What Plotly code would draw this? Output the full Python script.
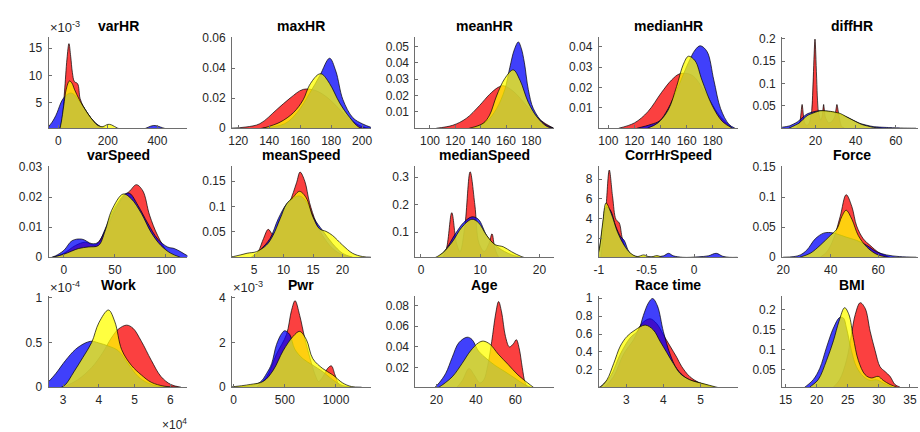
import plotly.graph_objects as go

# ---------------------------------------------------------------------------
# Kernel density curves (x, density) for the three groups in every panel
# ---------------------------------------------------------------------------
varHR_red = [(5, 0), (15, 0.002), (25, 0.007), (35, 0.013), (43, 0.0158), (50, 0.0135), (57, 0.0105),
             (65, 0.0089), (78, 0.0085), (88, 0.0058), (100, 0.0045), (120, 0.003), (140, 0.0018),
             (160, 0.0009), (190, 0.0002), (220, 0)]
varHR_blue = [(-45, 0), (-40, 0.0006), (-25, 0.0015), (-10, 0.0027), (0, 0.0038), (10, 0.005), (20, 0.0058),
              (35, 0.0065), (50, 0.0068), (65, 0.0065), (80, 0.0056), (100, 0.0044), (120, 0.003),
              (140, 0.0018), (160, 0.001), (180, 0.0005), (220, 0.0002), (300, 0.0001), (340, 0.0002),
              (385, 0.0009), (420, 0.0005), (450, 0.0001), (480, 0)]
varHR_yellow = [(5, 0), (12, 0.0015), (22, 0.0045), (32, 0.0075), (45, 0.009), (55, 0.0086), (65, 0.0075),
                (75, 0.0065), (85, 0.0056), (100, 0.0044), (120, 0.003), (140, 0.0018), (160, 0.0009),
                (180, 0.0007), (200, 0.0011), (215, 0.001), (240, 0.0004), (270, 0.0001), (300, 0)]

maxHR_red = [(115, 0), (125, 0.0008), (134, 0.003), (145, 0.0125), (153.5, 0.02), (162, 0.0258), (170, 0.025),
             (178, 0.02), (185, 0.013), (192, 0.006), (200, 0.001), (206, 0)]
maxHR_blue = [(135, 0), (150, 0.003), (158, 0.0103), (166, 0.023), (172.7, 0.035), (179, 0.0465), (183, 0.038),
              (187.6, 0.019), (194, 0.007), (200.4, 0.0028), (206, 0.0005)]
maxHR_yellow = [(136, 0), (147, 0.004), (155.6, 0.0103), (162, 0.019), (166, 0.0286), (171.6, 0.0357),
                (174, 0.036), (179, 0.0297), (185.5, 0.0168), (192, 0.0071), (198, 0.0006), (202, 0)]

meanHR_red = [(105, 0), (118, 0.0018), (128.6, 0.006), (139, 0.0138), (147, 0.0207), (153.8, 0.025),
              (158, 0.026), (165.7, 0.0226), (176.3, 0.0138), (187, 0.005), (197.5, 0)]
meanHR_blue = [(134, 0), (144.5, 0.004), (152.5, 0.0119), (159, 0.0236), (163, 0.0372), (166.5, 0.048),
               (169.7, 0.0528), (172, 0.049), (174.5, 0.04), (177.6, 0.0236), (181.6, 0.0119),
               (189.6, 0.0031), (197.5, 0)]
meanHR_yellow = [(131, 0), (141.9, 0.003), (147, 0.008), (152.5, 0.0197), (159, 0.0304), (165.7, 0.0357),
                 (171, 0.0294), (177.6, 0.0158), (184.3, 0.007), (192, 0.0012), (197, 0)]

medianHR_red = [(108, 0), (120, 0.0026), (130.3, 0.0081), (140.6, 0.0174), (148.4, 0.0236), (154.9, 0.0267),
                (164, 0.026), (174.3, 0.0174), (184.7, 0.0065), (195, 0)]
medianHR_blue = [(122, 0), (132.9, 0.0019), (139.4, 0.0037), (145.8, 0.0096), (153.6, 0.0205),
                 (161.4, 0.0322), (166.5, 0.0384), (170.4, 0.0404), (175.6, 0.0376), (180.8, 0.0236),
                 (186, 0.0096), (192.4, 0.0019), (197, 0)]
medianHR_yellow = [(130, 0), (138, 0.0026), (145.8, 0.0089), (152.3, 0.0205), (157.5, 0.0314),
                   (161.4, 0.0353), (166.5, 0.033), (171.7, 0.0236), (179.5, 0.0112), (187.2, 0.0034),
                   (195, 0)]

diffHR_red = [(10.5, 0), (12.2, 0.012), (13.4, 0.053), (14.6, 0.012), (15.8, 0.006), (17, 0.012),
              (18.2, 0.04), (19.8, 0.199), (21.4, 0.04), (22.6, 0.018), (23.3, 0.025), (24.1, 0.053),
              (24.9, 0.025), (26.5, 0.012), (28, 0.014), (29.6, 0.025), (30.7, 0.053), (31.8, 0.025),
              (33, 0.004), (34.5, 0)]
diffHR_blue = [(3, 0.002), (7, 0.005), (11, 0.014), (15.9, 0.032), (21.6, 0.039), (29, 0.0356), (35.6, 0.025),
               (42.2, 0.0107), (48.8, 0.0036), (57, 0.0014), (63.6, 0.0003), (70, 0)]
diffHR_yellow = [(6.8, 0), (11.8, 0.011), (15.9, 0.028), (22.5, 0.039), (27.4, 0.0377), (32.3, 0.033),
                 (37.3, 0.021), (43, 0.0085), (48.8, 0.002), (53, 0)]

varSpeed_red = [(-10, 0), (0, 0.0013), (11.3, 0.0039), (21, 0.005), (30.6, 0.0041), (40.3, 0.0087),
                (50, 0.0156), (58, 0.02), (64.5, 0.022), (71, 0.0241), (77.4, 0.022), (83.9, 0.014),
                (92, 0.0071), (101.6, 0.0018), (111, 0)]
varSpeed_blue = [(-12, 0), (-8, 0.0005), (0, 0.0023), (8, 0.0055), (17.7, 0.006), (27.4, 0.0045),
                 (33.9, 0.005), (40.3, 0.0093), (46.8, 0.0146), (53.2, 0.0183), (59.7, 0.021), (64.5, 0.0212),
                 (72.6, 0.0172), (82, 0.0114), (92, 0.006), (101.6, 0.0034), (108, 0.0029), (114.5, 0.0018),
                 (121, 0.0005), (125, 0)]
varSpeed_yellow = [(-11, 0), (0, 0.001), (14.5, 0.0029), (24, 0.0034), (33.9, 0.0039), (40.3, 0.0087),
                   (46.8, 0.0156), (58, 0.021), (66, 0.0194), (75.8, 0.0146), (85.5, 0.0082), (95, 0.0039),
                   (104.8, 0.0013), (114, 0)]

meanSpeed_red = [(4.9, 0), (5.7, 0.011), (6.6, 0.037), (7.4, 0.055), (8.2, 0.045), (9.4, 0.076), (11.0, 0.108),
                 (12.2, 0.147), (12.8, 0.168), (13.6, 0.15), (14.4, 0.108), (15.5, 0.069), (16.6, 0.043),
                 (18.3, 0.0175), (20, 0.0045), (21.7, 0)]
meanSpeed_blue = [(4.5, 0), (6, 0.014), (7.7, 0.037), (9.1, 0.076), (10.5, 0.105), (11.6, 0.116),
                  (12.7, 0.121), (13.8, 0.111), (15.2, 0.076), (16.6, 0.053), (18.3, 0.027), (20, 0.0078),
                  (21.7, 0)]
meanSpeed_yellow = [(0, 0), (1.5, 0.0013), (3.8, 0.0078), (5.4, 0.011), (7.1, 0.024), (8.2, 0.043),
                    (9.4, 0.0757), (10.5, 0.105), (11.6, 0.118), (12.7, 0.13), (13.8, 0.118), (15, 0.079),
                    (16.1, 0.056), (17.2, 0.051), (18.3, 0.043), (20, 0.024), (21.7, 0.0078), (23.4, 0.0013),
                    (25, 0)]

medianSpeed_red = [(3.5, 0), (4.3, 0.04), (5.2, 0.171), (6.0, 0.06), (6.6, 0.03), (7.4, 0.12), (8.3, 0.32),
                   (9.1, 0.2), (9.8, 0.06), (10.7, 0.03), (11.5, 0.06), (12.0, 0.094), (12.5, 0.04),
                   (13.3, 0.005), (14, 0)]
medianSpeed_blue = [(2.2, 0), (3.9, 0.029), (5.8, 0.094), (7.2, 0.135), (8.6, 0.156), (9.7, 0.147),
                    (11.1, 0.088), (12.5, 0.053), (14.7, 0.0235), (16.9, 0.008), (18.6, 0)]
medianSpeed_yellow = [(1.7, 0), (3.6, 0.0235), (5.3, 0.065), (6.9, 0.118), (8.6, 0.147), (9.7, 0.135),
                      (11.1, 0.088), (12.5, 0.055), (13.9, 0.047), (15.3, 0.029), (16.9, 0.012),
                      (18.6, 0.002), (19.5, 0)]

CorrHrSpeed_red = [(-0.98, 0), (-0.959, 2.0), (-0.924, 5.25), (-0.89, 8.9), (-0.855, 6.2), (-0.82, 3.95),
                   (-0.786, 3.6), (-0.752, 2.0), (-0.7, 0.7), (-0.63, 0.16), (-0.58, 0)]
CorrHrSpeed_blue = [(-1.02, 0), (-0.993, 1.04), (-0.96, 3.2), (-0.925, 5.2), (-0.88, 4.9), (-0.82, 3.2),
                    (-0.77, 2.2), (-0.734, 1.85), (-0.683, 0.7), (-0.62, 0.25), (-0.5, 0.2), (-0.4, 0.2),
                    (-0.32, 0.3), (-0.269, 0.55), (-0.22, 0.3), (-0.12, 0.15), (-0.04, 0.15), (0.05, 0.2),
                    (0.15, 0.3), (0.231, 0.55), (0.3, 0.25), (0.37, 0.15), (0.455, 0.15)]
CorrHrSpeed_yellow = [(-1.02, 0), (-0.993, 1.04), (-0.959, 3.6), (-0.924, 5.6), (-0.872, 4.6), (-0.803, 2.66),
                      (-0.734, 1.36), (-0.666, 0.55), (-0.597, 0.23), (-0.528, 0.39), (-0.46, 0.17),
                      (-0.39, 0.32), (-0.32, 0.1), (-0.25, 0)]

Force_red = [(35.6, 0), (38.4, 0.0091), (41.2, 0.0306), (44, 0.068), (46.5, 0.104), (48.9, 0.084),
             (50.9, 0.052), (53.7, 0.0306), (56.5, 0.0199), (60.7, 0.0065), (65, 0)]
Force_blue = [(20, 0), (24.5, 0.001), (27.2, 0.0038), (30, 0.012), (33.5, 0.0306), (37, 0.04), (39.8, 0.041),
              (42.6, 0.0387), (46.8, 0.033), (50.9, 0.028), (55.1, 0.0199), (59.3, 0.0091), (63.5, 0.0038),
              (69, 0.001), (76, 0)]
Force_yellow = [(27, 0), (31.4, 0.0065), (35.6, 0.0199), (39.8, 0.036), (42.6, 0.047), (44.7, 0.068),
                (46.5, 0.078), (48.9, 0.063), (51.6, 0.036), (55.1, 0.0172), (59.3, 0.0048), (64, 0)]

Work_red = [(30000, 0), (34000, 0.08e-4), (38000, 0.22e-4), (41000, 0.38e-4), (43500, 0.55e-4),
            (45500, 0.65e-4), (47800, 0.694e-4), (49600, 0.658e-4), (51900, 0.514e-4), (54700, 0.3e-4),
            (57400, 0.119e-4), (60200, 0.029e-4), (63000, 0)]
Work_blue = [(25000, 0.03e-4), (26000, 0.065e-4), (28000, 0.155e-4), (30700, 0.3e-4), (33500, 0.424e-4),
             (36300, 0.496e-4), (38100, 0.514e-4), (39900, 0.496e-4), (42700, 0.46e-4), (45500, 0.406e-4),
             (48200, 0.263e-4), (51000, 0.119e-4), (53700, 0.047e-4), (56500, 0.011e-4), (60000, 0)]
Work_yellow = [(29500, 0), (30700, 0.03e-4), (33000, 0.17e-4), (35500, 0.33e-4), (38000, 0.5e-4),
               (40000, 0.72e-4), (42700, 0.863e-4), (44500, 0.73e-4), (46400, 0.42e-4), (49100, 0.245e-4),
               (51900, 0.137e-4), (54700, 0.054e-4), (58300, 0.011e-4), (62000, 0)]

Pwr_red = [(226, 0), (323, 0.47e-3), (419, 1.48e-3), (516, 2.35e-3), (565, 3.42e-3), (600, 3.86e-3),
           (645, 3.21e-3), (694, 2.2e-3), (758, 1.1e-3), (800, 0.5e-3), (830, 0.25e-3), (870, 0.45e-3),
           (920, 0.85e-3), (955, 0.95e-3), (990, 0.55e-3), (1030, 0.1e-3), (1070, 0)]
Pwr_blue = [(0, 0), (161, 0.07e-3), (258, 0.22e-3), (323, 0.62e-3), (371, 1.05e-3), (419, 1.91e-3),
            (470, 2.4e-3), (500, 2.52e-3), (548, 2.35e-3), (597, 1.7e-3), (677, 1.27e-3), (774, 0.98e-3),
            (871, 0.69e-3), (968, 0.33e-3), (1065, 0.07e-3), (1150, 0)]
Pwr_yellow = [(-50, 0), (161, 0.12e-3), (290, 0.26e-3), (387, 0.76e-3), (484, 1.63e-3), (581, 2.27e-3),
              (645, 2.49e-3), (710, 2.13e-3), (774, 1.27e-3), (871, 0.83e-3), (968, 0.55e-3),
              (1065, 0.19e-3), (1150, 0.03e-3), (1250, 0)]

Age_red = [(30, 0), (33, 0.007), (36.5, 0.019), (39, 0.013), (42, 0.005), (44, 0.008), (46, 0.022),
           (48, 0.045), (50, 0.072), (51.5, 0.084), (53, 0.074), (55, 0.05), (57, 0.04), (59, 0.043),
           (60.5, 0.047), (62, 0.038), (63.5, 0.02), (65, 0.005), (66.5, 0)]
Age_blue = [(18.8, 0), (21.3, 0.005), (24.7, 0.0144), (28, 0.03), (31.3, 0.044), (35.5, 0.0494), (38, 0.0472),
            (41.3, 0.036), (45.5, 0.0284), (49.7, 0.022), (54.7, 0.016), (59.7, 0.0097), (64.7, 0.0034),
            (69, 0)]
Age_yellow = [(20, 0), (21.3, 0.001), (28, 0.011), (33, 0.024), (37.2, 0.036), (41.3, 0.044), (43.8, 0.0456),
              (47.2, 0.0425), (51.3, 0.033), (56.3, 0.023), (61.3, 0.0128), (66.3, 0.005), (69.7, 0)]

RaceTime_red = [(2.4, 0), (2.66, 0.126), (2.93, 0.377), (3.2, 0.538), (3.42, 0.717), (3.64, 0.771),
                (3.82, 0.717), (4.0, 0.592), (4.18, 0.466), (4.36, 0.341), (4.49, 0.24), (4.71, 0.126),
                (4.98, 0.054), (5.34, 0)]
RaceTime_blue = [(2.25, 0), (2.3, 0.01), (2.57, 0.126), (2.84, 0.377), (3.1, 0.556), (3.33, 0.646),
                 (3.46, 0.807), (3.6, 0.95), (3.71, 0.997), (3.84, 0.915), (4.0, 0.628), (4.18, 0.377),
                 (4.36, 0.215), (4.62, 0.108), (4.98, 0.054), (5.43, 0)]
RaceTime_yellow = [(2.2, 0), (2.3, 0.01), (2.48, 0.09), (2.66, 0.27), (2.84, 0.466), (3.02, 0.574),
                   (3.24, 0.646), (3.51, 0.70), (3.73, 0.646), (3.91, 0.52), (4.09, 0.395), (4.27, 0.27),
                   (4.45, 0.161), (4.71, 0.09), (5.07, 0.047), (5.5, 0)]

BMI_red = [(22.3, 0), (22.7, 0.007), (23.7, 0.0257), (24.8, 0.074), (25.6, 0.139), (26.2, 0.188), (27, 0.218),
           (27.8, 0.204), (28.6, 0.147), (29.4, 0.0985), (30.2, 0.058), (31, 0.046), (31.8, 0.034),
           (32.6, 0.0136), (33.4, 0.007), (34, 0)]
BMI_blue = [(17.5, 0), (18.1, 0.007), (19.45, 0.0257), (20.5, 0.054), (21.6, 0.107), (22.7, 0.155),
            (23.7, 0.181), (24.3, 0.18), (24.8, 0.155), (25.6, 0.098), (26.4, 0.058), (27.5, 0.034),
            (28.6, 0.024), (29.6, 0.0257), (30.7, 0.0176), (31.8, 0.0095), (33.4, 0)]
BMI_yellow = [(18.5, 0), (18.9, 0.007), (20.25, 0.0257), (21.6, 0.074), (22.7, 0.123), (23.6, 0.172),
              (24.5, 0.2056), (25.2, 0.188), (25.9, 0.131), (26.7, 0.074), (27.8, 0.038), (28.8, 0.03),
              (29.9, 0.034), (30.7, 0.024), (31.8, 0.0136), (32.9, 0.007), (33.5, 0)]

# ---------------------------------------------------------------------------
# Panel titles and tick labels
# ---------------------------------------------------------------------------
titles = ["varHR", "maxHR", "meanHR", "medianHR", "diffHR",
          "varSpeed", "meanSpeed", "medianSpeed", "CorrHrSpeed", "Force",
          "Work", "Pwr", "Age", "Race time", "BMI"]

x_tickvals = [[0, 200, 400], [120, 140, 160, 180, 200], [100, 120, 140, 160, 180],
              [100, 120, 140, 160, 180], [20, 40, 60],
              [0, 50, 100], [5, 10, 15, 20], [0, 10, 20], [-1, -0.5, 0], [20, 40, 60],
              [30000, 40000, 50000, 60000], [0, 500, 1000], [20, 40, 60], [3, 4, 5], [15, 20, 25, 30, 35]]
x_ticktext = [["0", "200", "400"], ["120", "140", "160", "180", "200"], ["100", "120", "140", "160", "180"],
              ["100", "120", "140", "160", "180"], ["20", "40", "60"],
              ["0", "50", "100"], ["5", "10", "15", "20"], ["0", "10", "20"], ["-1", "-0.5", "0"],
              ["20", "40", "60"],
              ["3", "4", "5", "6"], ["0", "500", "1000"], ["20", "40", "60"], ["3", "4", "5"],
              ["15", "20", "25", "30", "35"]]
y_tickvals = [[0.005, 0.01, 0.015], [0, 0.02, 0.04, 0.06], [0.01, 0.02, 0.03, 0.04, 0.05],
              [0.01, 0.02, 0.03, 0.04], [0.05, 0.1, 0.15, 0.2],
              [0, 0.01, 0.02, 0.03], [0.05, 0.1, 0.15], [0.1, 0.2, 0.3], [2, 4, 6, 8], [0, 0.05, 0.1, 0.15],
              [0, 0.5e-4, 1e-4], [0, 2e-3, 4e-3], [0.02, 0.04, 0.06, 0.08], [0.2, 0.4, 0.6, 0.8, 1],
              [0.05, 0.1, 0.15, 0.2]]
y_ticktext = [["5", "10", "15"], ["0", "0.02", "0.04", "0.06"], ["0.01", "0.02", "0.03", "0.04", "0.05"],
              ["0.01", "0.02", "0.03", "0.04"], ["0.05", "0.1", "0.15", "0.2"],
              ["0", "0.01", "0.02", "0.03"], ["0.05", "0.1", "0.15"], ["0.1", "0.2", "0.3"],
              ["2", "4", "6", "8"], ["0", "0.05", "0.1", "0.15"],
              ["0", "0.5", "1"], ["0", "2", "4"], ["0.02", "0.04", "0.06", "0.08"],
              ["0.2", "0.4", "0.6", "0.8", "1"], ["0.05", "0.1", "0.15", "0.2"]]

# axis limits per panel
x_ranges = [[-39, 521], [116, 205.6], [88.5, 198], [92.7, 199], [3.5, 71],
            [-15, 121], [1.25, 24.8], [-0.94, 22.5], [-1, 0.455], [19.6, 76.7],
            [25950, 64800], [-16, 1340], [9.3, 79.7], [2.26, 6.0], [14.46, 36.3]]
y_ranges = [[0.0004, 0.017], [0, 0.0606], [0, 0.0558], [0, 0.0447], [0, 0.2036],
            [0, 0.0303], [0, 0.18], [0.009, 0.341], [0.16, 9.3], [0, 0.1516],
            [0, 1.02e-4], [0, 4.07e-3], [0.0009, 0.0894], [0.007, 1.025], [0.007, 0.2348]]

curves = [
    (varHR_red, varHR_blue, varHR_yellow), (maxHR_red, maxHR_blue, maxHR_yellow),
    (meanHR_red, meanHR_blue, meanHR_yellow), (medianHR_red, medianHR_blue, medianHR_yellow),
    (diffHR_red, diffHR_blue, diffHR_yellow),
    (varSpeed_red, varSpeed_blue, varSpeed_yellow), (meanSpeed_red, meanSpeed_blue, meanSpeed_yellow),
    (medianSpeed_red, medianSpeed_blue, medianSpeed_yellow),
    (CorrHrSpeed_red, CorrHrSpeed_blue, CorrHrSpeed_yellow), (Force_red, Force_blue, Force_yellow),
    (Work_red, Work_blue, Work_yellow), (Pwr_red, Pwr_blue, Pwr_yellow), (Age_red, Age_blue, Age_yellow),
    (RaceTime_red, RaceTime_blue, RaceTime_yellow), (BMI_red, BMI_blue, BMI_yellow),
]

# ---------------------------------------------------------------------------
# Figure
# ---------------------------------------------------------------------------
W, H = 920, 432
col_left = [43, 228, 413, 598, 783]
ax_w = 140
row_top = [32, 165, 299]
row_bot = [126, 259, 393]

fills = ["rgba(250,0,0,0.75)", "rgba(0,0,250,0.75)", "rgba(255,255,0,0.75)"]
FONT = "Liberation Sans, Arial, Helvetica, sans-serif"
AXIS_COL = "#6e6e6e"

fig = go.Figure()
annotations = []
layout = {}

for k in range(15):
    r, c = divmod(k, 5)
    idx = "" if k == 0 else str(k + 1)
    x0 = col_left[c] / W
    x1 = min((col_left[c] + ax_w) / W, 1.0)
    y0 = 1 - row_bot[r] / H
    y1 = 1 - row_top[r] / H

    for series, color in zip(curves[k], fills):
        xs = [p[0] for p in series]
        ys = [p[1] for p in series]
        fig.add_trace(go.Scatter(
            x=xs, y=ys, mode="lines", fill="tozeroy", fillcolor=color,
            line=dict(color="black", width=0.7, shape="spline",
                      smoothing=0.6 if k == 4 else 1.0),
            xaxis="x" + idx, yaxis="y" + idx, showlegend=False, hoverinfo="skip"))

    common = dict(showline=True, linecolor=AXIS_COL, linewidth=1, showgrid=False, zeroline=False,
                  ticks="inside", ticklen=3, tickcolor=AXIS_COL, mirror=False,
                  tickfont=dict(family=FONT, size=12, color="#262626"))
    layout["xaxis" + idx] = dict(domain=[x0, x1], anchor="y" + idx, range=x_ranges[k],
                                 tickmode="array", tickvals=x_tickvals[k], ticktext=x_ticktext[k],
                                 ticklabelstandoff=1, **common)
    layout["yaxis" + idx] = dict(domain=[y0, y1], anchor="x" + idx, range=y_ranges[k],
                                 tickmode="array", tickvals=y_tickvals[k], ticktext=y_ticktext[k],
                                 ticklabelstandoff=3, **common)

    cx = (col_left[c] + ax_w / 2) / W
    annotations.append(dict(text="<b>%s</b>" % titles[k], x=cx, y=1 - (row_top[r] - 11) / H,
                            xref="paper", yref="paper", xanchor="center", yanchor="middle",
                            showarrow=False, font=dict(family=FONT, size=14, color="black")))

# exponent multipliers
exps = [("×10<sup>-3</sup>", 42, 22), ("×10<sup>-4</sup>", 42, 290), ("×10<sup>-3</sup>", 227, 290)]
for txt, px, py in exps:
    annotations.append(dict(text=txt, x=px / W, y=1 - py / H, xref="paper", yref="paper",
                            xanchor="left", yanchor="middle", showarrow=False,
                            font=dict(family=FONT, size=13, color="#262626")))
annotations.append(dict(text="×10<sup>4</sup>", x=185 / W, y=1 - 431 / H, xref="paper", yref="paper",
                        xanchor="right", yanchor="middle", showarrow=False,
                        font=dict(family=FONT, size=12, color="#262626")))

fig.update_layout(width=W, height=H, margin=dict(l=0, r=0, t=0, b=0),
                  paper_bgcolor="white", plot_bgcolor="white",
                  annotations=annotations, **layout)

fig.write_html("out.html")
